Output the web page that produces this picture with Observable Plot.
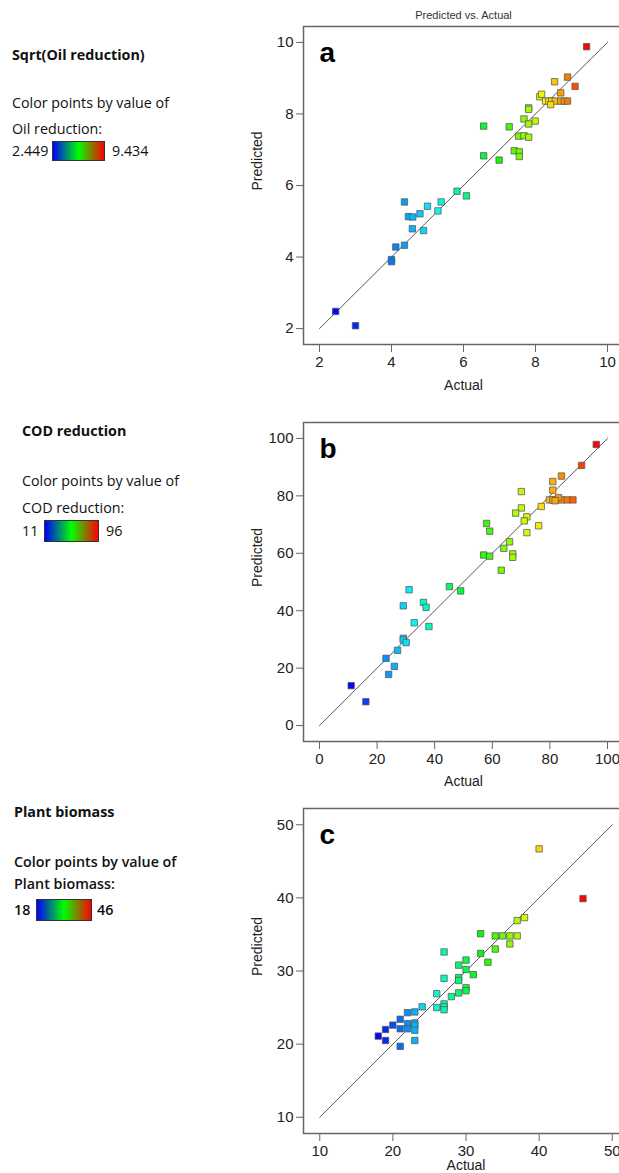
<!DOCTYPE html>
<html>
<head>
<meta charset="utf-8">
<script src="https://cdn.jsdelivr.net/npm/d3@7"></script>
<script src="https://cdn.jsdelivr.net/npm/@observablehq/plot@0.6"></script>
<style>
html, body { margin: 0; padding: 0; overflow: hidden; background: #fff; }
#root { position: relative; width: 619px; height: 1173px; overflow: hidden; }
.t { position: absolute; font-family: "Open Sans", "Noto Sans", sans-serif; font-size: 14.3px; line-height: 18px; color: #111; white-space: nowrap; }
.b { font-weight: 700; }
.sb { font-weight: 600; }
.ramp { position: absolute; background: linear-gradient(to right, #0000ff, #00ff00, #ff0000); border: 1px solid #333; box-sizing: border-box; }
.p { position: absolute; }
.p svg { max-width: none !important; }
</style>
</head>
<body>
<div id="root"></div>
<script>
// ---- Data ----
const aActual = [9.42, 8.89, 8.53, 9.10, 8.70, 8.12, 8.17, 8.28, 8.37, 8.45, 8.55, 8.70, 8.80, 8.89, 8.42, 7.81, 7.81, 7.68, 7.99, 7.81, 7.27, 6.56, 7.53, 7.68, 7.81, 7.41, 7.55, 7.55, 6.56, 6.99, 5.82, 6.08, 5.38, 5.29, 5.00, 4.79, 4.36, 4.47, 4.59, 4.58, 4.89, 4.36, 4.12, 4.00, 4.00, 2.45, 3.00];
const aPred   = [9.88, 9.03, 8.90, 8.77, 8.59, 8.48, 8.55, 8.36, 8.36, 8.36, 8.36, 8.36, 8.36, 8.36, 8.26, 8.17, 8.13, 7.86, 7.80, 7.72, 7.64, 7.66, 7.38, 7.39, 7.35, 6.97, 6.94, 6.81, 6.83, 6.71, 5.84, 5.71, 5.54, 5.29, 5.42, 5.21, 5.54, 5.13, 5.12, 4.79, 4.74, 4.33, 4.28, 3.93, 3.87, 2.48, 2.08];

const bActual = [96.1, 91.0, 84.0, 81.0, 81.0, 70.1, 79.8, 81.0, 82.0, 84.0, 86.0, 88.0, 83.0, 81.8, 77.0, 70.1, 68.1, 72.0, 71.1, 58.0, 59.1, 76.1, 72.0, 66.0, 64.0, 67.1, 67.1, 57.0, 59.1, 63.1, 45.1, 49.0, 31.1, 29.1, 36.1, 37.0, 32.9, 38.0, 29.1, 29.1, 30.1, 27.1, 23.1, 26.0, 24.0, 11.0, 16.1];
const bPred   = [97.9, 90.6, 86.9, 85.0, 82.0, 81.5, 78.6, 78.6, 78.6, 78.6, 78.6, 78.6, 79.4, 78.3, 76.3, 75.8, 74.0, 72.7, 71.3, 70.4, 67.7, 69.6, 67.2, 64.0, 61.7, 59.8, 58.6, 59.4, 59.0, 54.1, 48.4, 46.9, 47.3, 41.7, 42.9, 41.2, 35.8, 34.5, 30.4, 29.8, 28.9, 26.2, 23.4, 20.6, 17.8, 13.9, 8.3];

const cActual = [40, 46, 38, 37, 37, 36, 36, 35, 34, 32, 32, 34, 33, 27, 30, 29, 30, 31, 29, 29, 27, 30, 30, 29, 26, 28, 27, 27, 27, 26, 24, 23, 22, 21, 20, 23, 23, 22, 22, 21, 19, 23, 18, 19, 23, 21];
const cPred   = [46.7, 39.9, 37.3, 36.9, 34.8, 34.8, 33.7, 34.8, 34.8, 35.1, 32.4, 33.0, 31.2, 32.6, 31.5, 30.8, 30.2, 29.5, 29.1, 28.7, 29.0, 27.7, 27.3, 27.0, 26.9, 26.5, 25.5, 25.1, 24.7, 25.0, 25.1, 24.4, 24.3, 23.4, 22.6, 22.9, 22.6, 22.8, 22.1, 22.1, 22.0, 21.9, 21.1, 20.5, 20.5, 19.7];

const aTicks = [2, 4, 6, 8, 10];
const bTicks = [0, 20, 40, 60, 80, 100];
const cTicks = [10, 20, 30, 40, 50];
const aDiag = [2, 10];
const bDiag = [0, 100];
const cDiag = [10, 50];
const aColorRange = [2.449, 9.434];
const bColorRange = [11, 96];
const cColorRange = [18, 46];

const root = document.getElementById("root");

function txt(s, left, top, cls) {
  const d = document.createElement("div");
  d.className = "t " + (cls || "");
  d.textContent = s;
  d.style.left = left + "px";
  d.style.top = (top - 9) + "px";
  root.appendChild(d);
  return d;
}
function ramp(left, top, w, h) {
  const d = document.createElement("div");
  d.className = "ramp";
  d.style.left = left + "px"; d.style.top = top + "px";
  d.style.width = w + "px"; d.style.height = h + "px";
  root.appendChild(d);
}

function panel(o) {
  const data = o.actual.map((v, i) => ({actual: v, pred: o.pred[i]}));
  const pad = (o.ticks[o.ticks.length - 1] - o.ticks[0]) / 18;
  const dom = [o.ticks[0] - pad, o.ticks[o.ticks.length - 1] + pad];
  const svg = Plot.plot({
    width: o.width, height: o.height,
    marginLeft: 53, marginRight: 0, marginTop: o.mt, marginBottom: o.mb,
    style: {fontFamily: "'Liberation Sans', Arial, sans-serif", background: "transparent", overflow: "visible", maxWidth: "none"},
    x: {domain: dom, ticks: o.ticks, label: null},
    y: {domain: dom, ticks: o.ticks, label: null},
    color: {type: o.colorType, exponent: 2, domain: o.colorRange, range: ["hsl(240,95%,50%)", "hsl(0,95%,50%)"], interpolate: d3.interpolateHslLong},
    marks: [
      Plot.axisX({ticks: o.ticks, tickSize: 8, tickPadding: 4, fontSize: 15, color: "#222", stroke: "#666", label: null}),
      Plot.axisY({ticks: o.ticks, tickSize: 7, tickPadding: 3, fontSize: 15, color: "#222", stroke: "#666", label: null}),
      Plot.line(o.diag, {x: d => d, y: d => d, stroke: "#444", strokeWidth: 0.9}),
      Plot.dot(data, {x: "actual", y: "pred", fill: "actual", symbol: "square", r: 3.6, stroke: "#555", strokeOpacity: 0.75, strokeWidth: 1}),
      Plot.frame({stroke: "#666", strokeWidth: 1.5}),
      Plot.text([o.letter], {frameAnchor: "top-left", dx: 16, dy: 35, lineAnchor: "bottom", textAnchor: "start", fontSize: 28, fontWeight: "bold", fill: "#000"}),
      Plot.text(["Actual"], {frameAnchor: "bottom", dy: o.actualDy, lineAnchor: "middle", fontSize: 14, fill: "#222"}),
      Plot.text(["Predicted"], {frameAnchor: "left", dx: -46, dy: 5, rotate: -90, lineAnchor: "middle", fontSize: 14, fill: "#222"}),
      ...(o.title ? [Plot.text([o.title], {frameAnchor: "top", dy: -11, lineAnchor: "middle", fontSize: 11, fill: "#333"})] : [])
    ]
  });
  const wrap = document.createElement("div");
  wrap.className = "p";
  wrap.style.left = "250px";
  wrap.style.top = o.top + "px";
  wrap.style.width = o.width + "px";
  wrap.appendChild(svg);
  root.appendChild(wrap);
}

// Panel a
panel({actual: aActual, pred: aPred, ticks: aTicks, diag: aDiag, colorRange: aColorRange, colorType: "pow",
  letter: "a", title: "Predicted vs. Actual", top: 0, width: 373, height: 395, mt: 26, mb: 51, actualDy: 41});
// Panel b
panel({actual: bActual, pred: bPred, ticks: bTicks, diag: bDiag, colorRange: bColorRange, colorType: "linear",
  letter: "b", top: 390, width: 373, height: 400, mt: 32, mb: 49, actualDy: 40});
// Panel c
panel({actual: cActual, pred: cPred, ticks: cTicks, diag: cDiag, colorRange: cColorRange, colorType: "linear",
  letter: "c", top: 780, width: 378, height: 393, mt: 28, mb: 40, actualDy: 32});

// Legends
txt("Sqrt(Oil reduction)", 12, 55, "b");
txt("Color points by value of", 12, 103);
txt("Oil reduction:", 12, 129);
txt("2.449", 12, 151);
ramp(52, 141, 53, 20);
txt("9.434", 112, 151);

txt("COD reduction", 22, 431, "b");
txt("Color points by value of", 22, 481);
txt("COD reduction:", 22, 508);
txt("11", 22, 531);
ramp(44, 520, 55, 22);
txt("96", 106, 531);

txt("Plant biomass", 14, 812, "b");
txt("Color points by value of", 14, 862, "sb");
txt("Plant biomass:", 14, 884, "sb");
txt("18", 14, 910, "sb");
ramp(36, 899, 56, 22);
txt("46", 97, 910, "sb");
</script>
</body>
</html>
